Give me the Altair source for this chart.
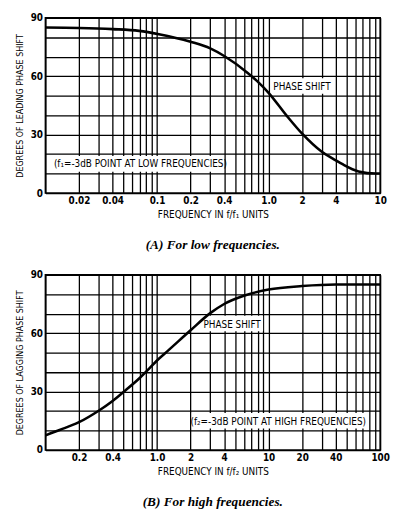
import altair as alt
import pandas as pd

# ---- data ----
low_freq = [0.01, 0.02, 0.04, 0.069, 0.104, 0.2, 0.3, 0.4, 0.65, 0.79, 1.0, 1.45, 2.0, 3.0, 4.0, 4.6, 6.4, 9.1, 10]
low_phase = [85.0, 84.8, 84.2, 83.3, 81.6, 77.7, 74.3, 70.4, 61.7, 57.5, 51.5, 39.8, 30.5, 21.2, 16.8, 14.8, 11.1, 10.0, 10.0]

high_freq = [0.1, 0.136, 0.2, 0.3, 0.4, 0.5, 0.7, 0.85, 1.0, 1.27, 2, 3, 4, 6, 10, 20, 40, 100]
high_phase = [7.5, 10.4, 14.3, 20.2, 25.2, 29.8, 37.0, 41.8, 46.0, 51.3, 61.5, 70.3, 75.0, 79.2, 82.4, 84.2, 85.0, 85.0]

low_tick_values = [0.02, 0.04, 0.1, 0.2, 0.4, 1, 2, 4, 10]
low_tick_labels = ["0.02", "0.04", "0.1", "0.2", "0.4", "1.0", "2", "4", "10"]
high_tick_values = [0.2, 0.4, 1, 2, 4, 10, 20, 40, 100]
high_tick_labels = ["0.2", "0.4", "1.0", "2", "4", "10", "20", "40", "100"]

y_grid = [0, 10, 20, 30, 40, 50, 60, 70, 80, 90]

low_notes_text = ["PHASE SHIFT", "(f\u2081=-3dB POINT AT LOW FREQUENCIES)"]
low_notes_f = [1.99, 0.071]
low_notes_deg = [54.6, 14.8]
low_notes_f1 = [1.07, 0.0145]
low_notes_f2 = [3.7, 0.36]
low_notes_d1 = [51.0, 11.0]
low_notes_d2 = [59.0, 19.0]

high_notes_text = ["PHASE SHIFT", "(f\u2082=-3dB POINT AT HIGH FREQUENCIES)"]
high_notes_f = [4.71, 12.2]
high_notes_deg = [64.2, 14.5]
high_notes_f1 = [2.48, 2.05]
high_notes_f2 = [8.93, 75.0]
high_notes_d1 = [61.0, 11.0]
high_notes_d2 = [69.0, 19.0]

COND = "Liberation Sans Narrow, DejaVu Sans Condensed, Liberation Sans"


def grid_values(exps, last):
    return [round(m * 10 ** e, 6) for e in exps for m in range(1, 10)] + [last]


def panel(freq, phase, gvals, tvals, tlabels, xdomain, xtitle, ytitle, caption, cap_offset,
          ntext, nf, nd, nf1, nf2, nd1, nd2):
    df = pd.DataFrame({"f": freq, "deg": phase})
    notes = pd.DataFrame({"t": ntext, "f": nf, "deg": nd, "fa": nf1, "fb": nf2, "da": nd1, "db": nd2})
    label_expr = " : ".join(f"datum.value == {v} ? '{l}'" for v, l in zip(tvals, tlabels)) + " : ''"
    xscale = alt.Scale(type="log", domain=xdomain, nice=False)
    yscale = alt.Scale(domain=[0, 90], nice=False)
    xaxis = alt.Axis(values=gvals, labelExpr=label_expr, title=xtitle,
                     labelFont=COND, labelFontSize=10, labelFontWeight="bold",
                     labelPadding=3, titlePadding=4, titleFont=COND, titleFontSize=10,
                     titleFontWeight="normal", labelFlush=False)
    yaxis = alt.Axis(values=y_grid, labelExpr="datum.value % 30 == 0 ? datum.label : ''",
                     title=ytitle, labelFont=COND, labelFontSize=10, labelFontWeight="bold",
                     labelPadding=3, titlePadding=6, titleFont=COND, titleFontSize=9,
                     titleFontWeight="normal")
    line = alt.Chart(df).mark_line(color="black", strokeWidth=2.6, interpolate="monotone").encode(
        x=alt.X("f:Q", scale=xscale, axis=xaxis),
        y=alt.Y("deg:Q", scale=yscale, axis=yaxis),
    )
    bg = alt.Chart(notes).mark_rect(color="white").encode(
        x=alt.X("fa:Q", scale=xscale, axis=xaxis), x2="fb:Q",
        y=alt.Y("da:Q", scale=yscale, axis=yaxis), y2="db:Q",
    )
    txt = alt.Chart(notes).mark_text(font=COND, fontSize=10, color="black").encode(
        x=alt.X("f:Q", scale=xscale, axis=xaxis),
        y=alt.Y("deg:Q", scale=yscale, axis=yaxis),
        text="t:N",
    )
    return alt.layer(bg, txt, line).properties(
        width=340, height=178,
        title=alt.TitleParams(caption, orient="bottom", font="Liberation Serif", fontSize=13.5,
                              fontStyle="italic", fontWeight="bold", offset=cap_offset),
    )


top = panel(low_freq, low_phase, grid_values([-2, -1, 0], 10), low_tick_values, low_tick_labels,
            [0.01, 10], "FREQUENCY IN f/f\u2081 UNITS", "DEGREES OF LEADING PHASE SHIFT",
            "(A) For low frequencies.", 19,
            low_notes_text, low_notes_f, low_notes_deg, low_notes_f1, low_notes_f2, low_notes_d1, low_notes_d2)
bottom = panel(high_freq, high_phase, grid_values([-1, 0, 1], 100), high_tick_values, high_tick_labels,
               [0.1, 100], "FREQUENCY IN f/f\u2082 UNITS", "DEGREES OF LAGGING PHASE SHIFT",
               "(B) For high frequencies.", 19,
               high_notes_text, high_notes_f, high_notes_deg, high_notes_f1, high_notes_f2, high_notes_d1, high_notes_d2)

chart = alt.vconcat(top, bottom, spacing=16).properties(
    padding={"left": 6, "top": 0, "right": 0, "bottom": 0}
).configure_view(stroke="black", strokeWidth=1.6).configure_axis(
    grid=True, gridColor="black", gridWidth=1.3, gridOpacity=1, domain=False, ticks=False,
    labelColor="black", titleColor="black"
).configure_title(color="black")

chart.save("out.html", embed_options={"renderer": "svg", "actions": False})
